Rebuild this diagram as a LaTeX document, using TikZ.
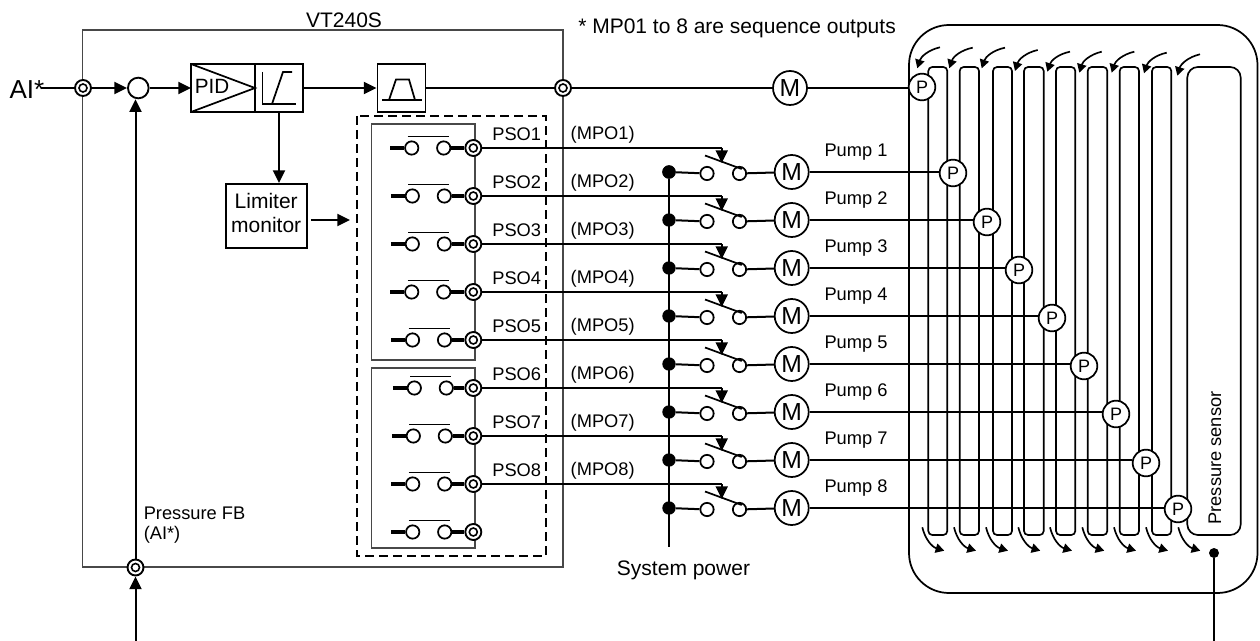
\documentclass[tikz,border=0pt]{standalone}
\usepackage{fontspec}
\setmainfont{Liberation Sans}
\usetikzlibrary{arrows.meta,calc}
\definecolor{boxgray}{HTML}{484848}

\tikzset{
  wire/.style={line width=1.5pt},
  arr/.style={wire,-{Triangle[length=9.5pt,width=9pt]}},
  flowarr/.style={line width=1.25pt,-{Triangle[length=6.5pt,width=7pt]},bend right=30},
  blk/.style={draw,line width=1.4pt,fill=white,inner sep=0pt},
  term/.style={circle,draw,line width=1.4pt,fill=white,inner sep=0pt,minimum size=12pt,
    path picture={\draw[line width=1.2pt] (path picture bounding box.center) circle (3pt);}},
  contact/.style={circle,draw,line width=1.3pt,fill=white,inner sep=0pt,minimum size=10pt},
  dotnode/.style={circle,fill=black,inner sep=0pt,minimum size=10pt},
  motor/.style={circle,draw,line width=1.3pt,fill=white,inner sep=0pt,minimum size=25.5pt,font=\fontsize{18.5}{20}\selectfont},
  pgauge/.style={circle,draw,line width=1.3pt,fill=white,inner sep=0pt,minimum size=20pt,font=\fontsize{13.5}{15}\selectfont},
  bigtext/.style={inner sep=0pt,font=\fontsize{15.75}{18}\selectfont},
  smalltext/.style={inner sep=0pt,font=\fontsize{13.7}{15}\selectfont},
}

\begin{document}
\begin{tikzpicture}[x=0.75pt,y=-0.75pt]
  \useasboundingbox (0,0) rectangle (1260,641);

  % drive enclosure
  \draw[boxgray,line width=1.2pt] (82.5,30) rectangle (563,567);
  \node[bigtext] (vtname) at (344,20) {VT240S};
  \node[bigtext,anchor=west] (note) at (578,28) {* MP01 to 8 are sequence outputs};

  % control chain
  \node[inner sep=0pt,font=\fontsize{19.5}{22}\selectfont,anchor=east] (ai) at (44.5,90) {AI*};
  \node[term] (tin) at (83,88) {};
  \node[circle,draw,line width=1.4pt,inner sep=0pt,minimum size=15.5pt] (sumc) at (138.3,88) {};
  \node[blk,minimum width=36pt,minimum height=36pt] (limit) at (279,88) {};
  \draw[line width=1.4pt,fill=white] (191,64) rectangle (255,112);
  \coordinate (pidin) at (191,88);
  \coordinate (pidout) at (255,88);
  \draw[line width=1.3pt] (191,64) -- (pidout) -- (191,112);
  \node[inner sep=0pt,font=\fontsize{15.5}{18}\selectfont] (pid) at (212,86) {PID};
  \draw[line width=1.3pt] (262.5,72) |- (296,104);
  \draw[line width=1.3pt] (266,104) -- (272,104) -- (283,72) -- (292,72);
  \node[blk,minimum width=36pt,minimum height=36pt] (filt) at (401.5,88) {};
  \draw[line width=1.2pt] (382,100) -- (422,100);
  \draw[line width=1.3pt] (389,100) -- (396,79.5) -- (409,79.5) -- (415,100);
  \node[term] (tout) at (563,88) {};
  \node[motor] (m0) at (790,88) {M};

  \node[blk,minimum width=60.75pt,minimum height=48pt] (mon) at (266.2,216) {};
  \node[bigtext] (monA) at (266.2,201) {Limiter};
  \node[bigtext] (monB) at (266.2,225) {monitor};
  \coordinate (dashin) at (350,220);

  \draw[wire,shorten <=-3pt] (ai.east |- tin) -- (tin);
  \draw[arr] (tin) -- (sumc);
  \draw[arr] (sumc) -- (pidin);
  \draw[arr] (limit) -- (filt);
  \draw[arr] (limit.south) -- (limit.south |- mon.north);
  \draw[arr,shorten <=2.5pt] (mon.east |- dashin) -- (dashin);
  \draw[wire] (filt) -- (tout);
  \draw[wire] (tout) -- (m0);

  % feedback
  \node[term] (tfb) at (135.5,567.5) {};
  \coordinate (fbin) at (135.5,641);
  \draw[arr] (fbin) -- (tfb);
  \draw[arr] (tfb) -- (tfb |- sumc.south);
  \node[smalltext,anchor=west] (fbA) at (143.5,513) {Pressure FB};
  \node[smalltext,anchor=west] (fbB) at (143.5,535) {(AI*)};

  % relay blocks
  \draw[line width=1.4pt,dashed,dash pattern=on 6.5pt off 4pt] (357,116) rectangle (546,556);
  \draw[boxgray,line width=1.4pt] (371.5,124) rectangle (475,360);
  \draw[boxgray,line width=1.4pt] (371.5,368) rectangle (475,548);
  \foreach \i/\cx in {1/411.7,2/412.3,3/412.3,4/411.7,5/412.5,6/414.3,7/413.3,8/412.7,9/412.7} {
    \pgfmathsetmacro{\ry}{148+48*(\i-1)}
    \node[term] (pso\i) at (473.3,\ry) {};
    \node[contact] (ca\i) at (\cx,\ry) {};
    \node[contact] (cb\i) at (\cx+32,\ry) {};
    \coordinate (cin\i) at (\cx-21.5,\ry);
    \draw[line width=2.8pt] (cin\i) -- (ca\i);
    \draw[line width=2.8pt] (cb\i) -- (pso\i);
    \draw[line width=1.3pt] (\cx-4,\ry-11.5) -- (\cx+37,\ry-11.5);
  }

  % vessel and its channels
  \draw[line width=1.3pt,rounded corners=30pt] (909,25) rectangle (1257.5,593);
  \foreach \xa/\xb in {928.3/947.3,959.7/979,993/1012,1024/1043.7,1056/1075.3,1087.7/1107.3,1119.7/1139,1152/1171.3}
    \draw[line width=1.25pt,rounded corners=3pt] (\xa,67) rectangle (\xb,535);
  \draw[line width=1.25pt,rounded corners=8pt] (1187.3,67) rectangle (1240.7,535);
  \node[smalltext,rotate=90] (sensorname) at (1215,458) {Pressure sensor};
  \foreach \sx/\sy/\tx/\ty in {940/47.3/917.3/68.3,972.7/47.7/949.3/68.3,1005/47.7/981.7/68.3,1037.7/50/1015/71,1070/51.7/1047.3/71.7,1101.7/51.7/1079.3/72.7,1134.3/51.7/1111.7/72.7,1166.7/52.7/1144/73.3,1200/54.3/1177.3/75.7}
    \draw[flowarr] (\sx,\sy) to (\tx,\ty);
  \foreach \sx in {922.3,954,986,1018.3,1050,1082.3,1114,1146,1178.3}
    \draw[flowarr] (\sx,527.3) to (\sx+22,550.7);
  \node[circle,fill=black,inner sep=0pt,minimum size=7.5pt] (sdot) at (1214,553) {};
  \coordinate (sout) at (1214,641);
  \draw[wire] (sdot) -- (sout);
  \node[pgauge] (p0) at (922,87) {P};
  \draw[wire] (m0) -- (p0.west |- m0);

  % pumps
  \coordinate (busend) at (669,547);
  \node[dotnode] (dot1) at (669,172) {};
  \draw[wire] (dot1) -- (busend);
  \foreach \i/\px/\py in {1/953/173,2/987/222,3/1019/270,4/1052/318,5/1084/366,6/1116/414,7/1146/463,8/1178/509} {
    \pgfmathsetmacro{\ly}{148+48*(\i-1)}
    \pgfmathsetmacro{\sy}{172+48*(\i-1)}
    \node[dotnode] (dot\i) at (669,\sy) {};
    \node[contact] (swa\i) at (707,\sy+1.5) {};
    \node[contact] (swb\i) at (739.5,\sy+1.5) {};
    \node[motor] (m\i) at (791.7,\sy) {M};
    \node[pgauge] (p\i) at (\px,\py) {P};
    \node[smalltext] (psolab\i) at (516.7,\ly-14) {PSO\i};
    \node[smalltext] (mpolab\i) at (602.7,\ly-13) {(MPO\i)};
    \node[smalltext] (pump\i) at (856,\sy-20) {Pump \i};
    \coordinate (blA\i) at (705,\sy-16.5);
    \coordinate (blB\i) at (741.7,\sy-3);
    \coordinate (corner\i) at (721.7,\ly);
    \coordinate (blC\i) at (721.7,\ly+15);
    \draw[wire] (pso\i) -- (corner\i);
    \draw[arr] (corner\i) -- (blC\i);
    \draw[line width=1.3pt] (blA\i) -- (blB\i);
    \draw[wire] (dot\i) -- (swa\i);
    \draw[wire] (swb\i) -- (m\i);
    \draw[wire] (m\i) -- (p\i.west |- m\i);
  }
  \node[bigtext] (syspower) at (683.5,570) {System power};
\end{tikzpicture}
\end{document}
